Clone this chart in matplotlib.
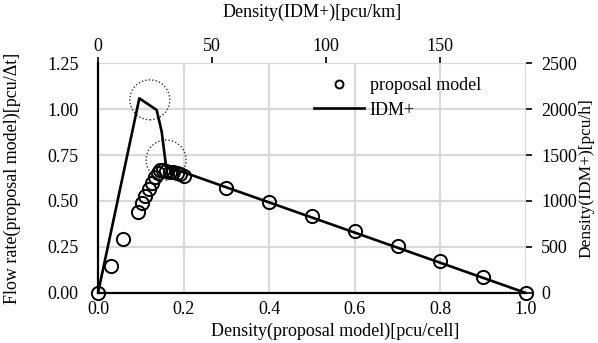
import matplotlib
matplotlib.use("Agg")
import matplotlib.pyplot as plt
from matplotlib.patches import Ellipse

plt.rcParams['font.family'] = ['Liberation Serif', 'DejaVu Serif']

# proposal model (bottom / left axes)
prop_density = [0.0, 0.030, 0.059, 0.093, 0.102, 0.110, 0.118, 0.125, 0.132, 0.139, 0.145,
                0.152, 0.160, 0.168, 0.176, 0.184, 0.192, 0.200,
                0.30, 0.40, 0.50, 0.60, 0.70, 0.80, 0.90, 1.0]
prop_flow = [0.0, 0.148, 0.293, 0.439, 0.487, 0.527, 0.564, 0.600, 0.629, 0.654, 0.668,
             0.667, 0.664, 0.660, 0.655, 0.650, 0.645, 0.638,
             0.572, 0.496, 0.420, 0.337, 0.257, 0.176, 0.089, 0.0]

# IDM+ (top / right axes)
idm_density = [0.0, 18.1, 25.7, 27.9, 29.8, 187.5]
idm_flow = [0.0, 2116, 1989, 1753, 1380, 0.0]

# highlighted regions (proposal-model units)
circle_centers = [(0.121, 1.05), (0.159, 0.723)]

bottom_ticks = [0.0, 0.2, 0.4, 0.6, 0.8, 1.0]
left_ticks = [0.0, 0.25, 0.5, 0.75, 1.0, 1.25]
top_ticks = [0, 50, 100, 150]
right_ticks = [0, 500, 1000, 1500, 2000, 2500]

FS = 13
fig = plt.figure(figsize=(5.98, 3.43), dpi=100)
ax = fig.add_axes([0.1639, 0.1458, 0.7157, 0.6705])
ax.set_xlim(0, 1.0)
ax.set_ylim(0, 1.25)
ax.set_xticks(bottom_ticks)
ax.set_xticklabels([f"{t:.1f}" for t in bottom_ticks], fontsize=FS)
ax.set_yticks(left_ticks)
ax.set_yticklabels([f"{t:.2f}" for t in left_ticks], fontsize=FS)
ax.tick_params(axis='x', length=0, pad=6)
ax.tick_params(axis='y', length=0, pad=14)
ax.grid(True, color='#d9d9d9', linewidth=1.5, zorder=0)
ax.set_axisbelow(True)
for s in ['left', 'bottom']:
    ax.spines[s].set_linewidth(1.6)
for s in ['top', 'right']:
    ax.spines[s].set_visible(False)
ax.set_xlabel('Density(proposal model)[pcu/cell]', fontsize=FS)
ax.xaxis.set_label_coords(0.554, -0.127)
ax.set_ylabel('Flow rate(proposal model)[pcu/Δt]', fontsize=FS)
ax.yaxis.set_label_coords(-0.18, 0.5)

h1, = ax.plot(prop_density, prop_flow, linestyle='none', marker='o', markersize=9.5,
              markerfacecolor='none', markeredgecolor='black', markeredgewidth=1.4,
              label='proposal model', zorder=4, clip_on=False)

for cx, cy in circle_centers:
    e = Ellipse((cx, cy), width=0.0935, height=0.217, fill=False, edgecolor='#333333',
                linestyle=(0, (1, 1.5)), linewidth=1.0, zorder=5)
    ax.add_patch(e)

ax2 = fig.add_axes(ax.get_position(), frameon=False)
ax2.set_xlim(0, 187.5)
ax2.set_ylim(0, 2500)
ax2.xaxis.tick_top()
ax2.xaxis.set_label_position('top')
ax2.yaxis.tick_right()
ax2.yaxis.set_label_position('right')
ax2.set_xticks(top_ticks)
ax2.set_xticklabels([str(t) for t in top_ticks], fontsize=FS)
ax2.set_yticks(right_ticks)
ax2.set_yticklabels([str(t) for t in right_ticks], fontsize=FS)
ax2.tick_params(axis='x', direction='out', length=4, width=1.2, pad=2)
ax2.tick_params(axis='y', direction='out', length=4, width=1.2, pad=7)
ax2.spines['top'].set_visible(True)
ax2.spines['right'].set_visible(True)
ax2.spines['top'].set_linewidth(1.3)
ax2.spines['right'].set_linewidth(1.6)
ax2.set_xlabel('Density(IDM+)[pcu/km]', fontsize=FS)
ax2.xaxis.set_label_coords(0.5, 1.20)
ax2.set_ylabel('Density(IDM+)[pcu/h]', fontsize=12.5)
ax2.yaxis.set_label_coords(1.1215, 0.5)

h2, = ax2.plot(idm_density, idm_flow, color='black', linewidth=1.9, label='IDM+', zorder=3)

leg = ax2.legend([h1, h2], ['proposal model', 'IDM+'], loc='upper right',
                 bbox_to_anchor=(0.933, 1.01), frameon=False, fontsize=FS,
                 markerscale=0.6, handlelength=2.8, handletextpad=0.3,
                 labelspacing=0.42)

fig.savefig('out.png', dpi=100)
